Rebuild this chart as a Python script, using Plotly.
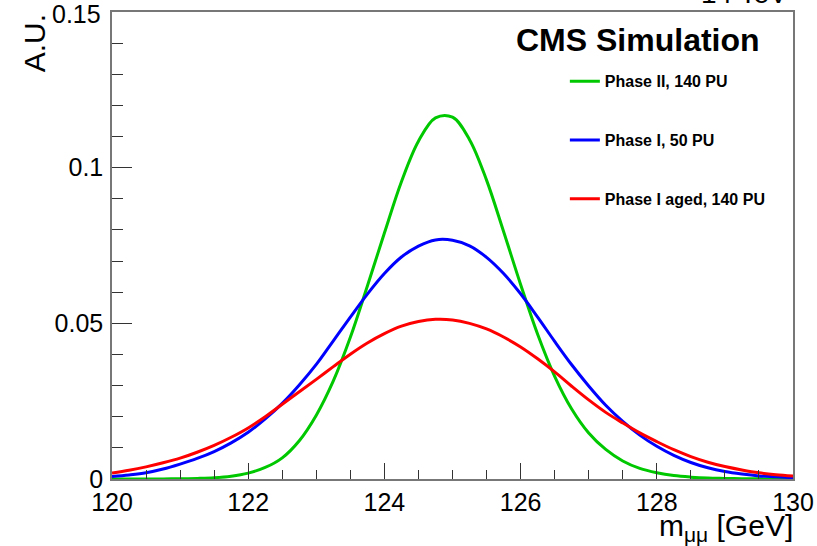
import plotly.graph_objects as go

# m_mumu [GeV], sampled every 0.25 GeV
mass = [120.0, 120.25, 120.5, 120.75, 121.0, 121.25, 121.5, 121.75, 122.0, 122.25,
        122.5, 122.75, 123.0, 123.25, 123.5, 123.75, 124.0, 124.25, 124.5, 124.75,
        125.0, 125.25, 125.5, 125.75, 126.0, 126.25, 126.5, 126.75, 127.0, 127.25,
        127.5, 127.75, 128.0, 128.25, 128.5, 128.75, 129.0, 129.25, 129.5, 129.75, 130.0]

phase2_140pu = [0.0, 0.0, 0.0, 0.00002, 0.0001, 0.0002, 0.0004, 0.0009, 0.0019, 0.0037,
                0.0068, 0.0123, 0.0205, 0.0315, 0.0455, 0.0620, 0.0790, 0.0955, 0.1085, 0.1160,
                0.1162, 0.1090, 0.0960, 0.0795, 0.0625, 0.0465, 0.0330, 0.0225, 0.0148, 0.0095,
                0.0058, 0.0034, 0.0020, 0.0011, 0.0006, 0.0003, 0.0002, 0.0001, 0.00005, 0.0, 0.0]

phase1_50pu = [0.0008, 0.0013, 0.0020, 0.0032, 0.0048, 0.0066, 0.0088, 0.0116, 0.0150, 0.0193,
               0.0243, 0.0302, 0.0368, 0.0444, 0.0520, 0.0594, 0.0660, 0.0713, 0.0748, 0.0768,
               0.0767, 0.0749, 0.0712, 0.0660, 0.0595, 0.0520, 0.0442, 0.0367, 0.0299, 0.0237,
               0.0185, 0.0141, 0.0105, 0.0076, 0.0053, 0.0036, 0.0024, 0.0016, 0.0010, 0.0007, 0.0004]

phase1_aged_140pu = [0.0019, 0.0028, 0.0039, 0.0052, 0.0067, 0.0086, 0.0108, 0.0134, 0.0164, 0.0200,
                     0.0240, 0.0280, 0.0320, 0.0361, 0.0401, 0.0437, 0.0467, 0.0491, 0.0506, 0.0513,
                     0.0511, 0.0500, 0.0482, 0.0456, 0.0424, 0.0386, 0.0344, 0.0298, 0.0254, 0.0214,
                     0.0180, 0.0148, 0.0120, 0.0094, 0.0072, 0.0054, 0.0040, 0.0029, 0.0020, 0.0014, 0.0010]

series = [
    ("Phase II, 140 PU", phase2_140pu, "#00c800"),
    ("Phase I, 50 PU", phase1_50pu, "#0000ff"),
    ("Phase I aged, 140 PU", phase1_aged_140pu, "#ff0000"),
]

x_tickvals = [120, 122, 124, 126, 128, 130]
y_tickvals = [0, 0.05, 0.1, 0.15]
y_ticktext = ["0", "0.05", "0.1", "0.15"]

fig = go.Figure()
for i, (name, vals, col) in enumerate(series):
    fig.add_trace(go.Scatter(
        x=mass, y=vals, mode="lines", name=name,
        line=dict(color=col, width=3, shape="spline", smoothing=1.0),
        legendgroup=f"g{i}",
    ))

FONT = "Liberation Sans, Arial, Helvetica, sans-serif"
axis_font = dict(family=FONT, size=25, color="black")

fig.update_layout(
    width=817, height=546,
    margin=dict(l=112, r=24, t=12, b=67, autoexpand=False),
    paper_bgcolor="white", plot_bgcolor="white",
    showlegend=True,
    legend=dict(
        x=0.665, y=0.888, xanchor="left", yanchor="top",
        bgcolor="rgba(0,0,0,0)", borderwidth=0,
        font=dict(family=FONT, size=16, color="black", weight="bold"),
        tracegroupgap=35,
    ),
    xaxis=dict(
        range=[120, 130], tickvals=x_tickvals, ticktext=[str(v) for v in x_tickvals],
        ticks="inside", ticklen=16, tickwidth=1, tickcolor="#333",
        minor=dict(ticks="inside", ticklen=9, dtick=0.5, tick0=120, tickcolor="#333"),
        showline=True, linecolor="#777", linewidth=1.5, mirror=True,
        showgrid=False, zeroline=False, tickfont=axis_font, automargin=False,
    ),
    yaxis=dict(
        range=[0, 0.15], tickvals=y_tickvals, ticktext=y_ticktext[:-1] + [""],
        ticks="inside", ticklen=20, tickwidth=1, tickcolor="#333",
        minor=dict(ticks="inside", ticklen=11, dtick=0.01, tick0=0, tickcolor="#333"),
        showline=True, linecolor="#777", linewidth=1.5, mirror=True,
        showgrid=False, zeroline=False, tickfont=axis_font, ticklabelstandoff=2,
        automargin=False,
    ),
    annotations=[
        # top y tick label (placed at its data value on the y axis)
        dict(text=y_ticktext[-1], xref="paper", yref="y", x=-0.0125, y=y_tickvals[-1],
             xanchor="right", yanchor="middle", yshift=-2, showarrow=False, font=axis_font),
        dict(text="CMS Simulation", xref="paper", yref="paper", x=0.9545, y=0.982,
             xanchor="right", yanchor="top", showarrow=False,
             font=dict(family=FONT, size=32, color="black", weight="bold")),
        dict(text="A.U.", xref="paper", yref="paper", x=-0.114, y=1.0,
             xanchor="center", yanchor="top", showarrow=False, textangle=-90,
             font=dict(family=FONT, size=30, color="black")),
        dict(text="m<sub>μμ</sub> [GeV]", xref="paper", yref="paper", x=1.003, y=-0.0595,
             xanchor="right", yanchor="top", showarrow=False,
             font=dict(family=FONT, size=30, color="black")),
        dict(text="14 TeV", xref="paper", yref="paper", x=0.995, y=1.002,
             xanchor="right", yanchor="bottom", showarrow=False,
             font=dict(family=FONT, size=28, color="black")),
    ],
)

fig.write_html("out.html")
